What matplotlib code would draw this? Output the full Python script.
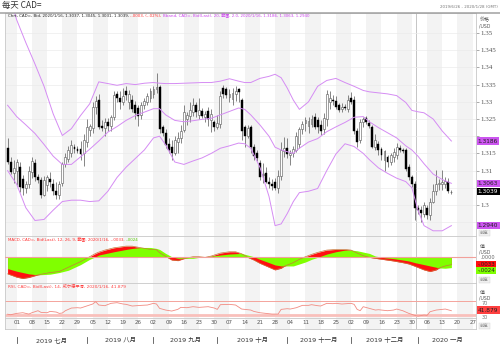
import matplotlib
matplotlib.use('Agg')
import matplotlib.pyplot as plt
import matplotlib.transforms as mtransforms
from matplotlib.lines import Line2D
import numpy as np
import pandas as pd

plt.rcParams['font.family'] = ['DejaVu Sans', 'Noto Sans CJK SC']

# daily bars CAD= (USD/CAD), trading days 2019/6/26 .. 2020/1/16
dates = pd.bdate_range('2019-06-26', '2020-01-16')
opens = [1.3165, 1.3126, 1.3092,
         1.3100, 1.3110, 1.3075, 1.3050, 1.3062, 1.3095, 1.3122, 1.3080, 1.3072, 1.3030, 1.3058, 1.3075, 1.3062,
         1.3042, 1.3028, 1.3064, 1.3118, 1.3135, 1.3150, 1.3170, 1.3164, 1.3162, 1.3150,
         1.3182, 1.3218, 1.3225, 1.3285, 1.3305, 1.3230, 1.3224, 1.3242, 1.3230, 1.3255, 1.3322, 1.3310, 1.3300,
         1.3332, 1.3298, 1.3305, 1.3290, 1.3282, 1.3262, 1.3290, 1.3300, 1.3310,
         1.3322, 1.3336, 1.3342, 1.3226, 1.3210, 1.3178, 1.3170, 1.3152, 1.3182, 1.3196, 1.3218, 1.3250, 1.3258,
         1.3270, 1.3290, 1.3262, 1.3274, 1.3256, 1.3272, 1.3246, 1.3240,
         1.3228, 1.3236, 1.3340, 1.3336, 1.3314, 1.3308, 1.3322, 1.3336, 1.3305, 1.3228, 1.3202, 1.3226, 1.3168,
         1.3150, 1.3121, 1.3086, 1.3092, 1.3068, 1.3062, 1.3068, 1.3050, 1.3085, 1.3156,
         1.3166, 1.3144, 1.3150, 1.3160, 1.3176, 1.3220, 1.3238, 1.3230, 1.3236, 1.3256, 1.3246, 1.3232, 1.3220,
         1.3250, 1.3300, 1.3306, 1.3302, 1.3290, 1.3278, 1.3286, 1.3280,
         1.3312, 1.3306, 1.3214, 1.3190, 1.3240, 1.3252, 1.3238, 1.3228, 1.3170, 1.3178, 1.3162, 1.3132, 1.3140,
         1.3124, 1.3140, 1.3146, 1.3166, 1.3160, 1.3160, 1.3110, 1.3082, 1.3060,
         1.2990, 1.2985, 1.2975, 1.2992, 1.2970, 1.3010, 1.3040, 1.3060, 1.3060, 1.3062, 1.3068, 1.3037]
highs = [1.3195, 1.3140, 1.3131,
         1.3135, 1.3125, 1.3088, 1.3070, 1.3112, 1.3140, 1.3135, 1.3090, 1.3080, 1.3085, 1.3088, 1.3095, 1.3075,
         1.3066, 1.3070, 1.3126, 1.3152, 1.3172, 1.3188, 1.3178, 1.3172, 1.3185, 1.3205,
         1.3250, 1.3236, 1.3300, 1.3318, 1.3322, 1.3246, 1.3252, 1.3252, 1.3262, 1.3330, 1.3332, 1.3330, 1.3340,
         1.3345, 1.3335, 1.3320, 1.3302, 1.3292, 1.3300, 1.3310, 1.3325, 1.3340,
         1.3345, 1.3383, 1.3350, 1.3232, 1.3220, 1.3195, 1.3188, 1.3200, 1.3213, 1.3232, 1.3290, 1.3270, 1.3300,
         1.3310, 1.3300, 1.3310, 1.3282, 1.3272, 1.3285, 1.3280, 1.3248,
         1.3262, 1.3330, 1.3349, 1.3344, 1.3336, 1.3340, 1.3345, 1.3340, 1.3310, 1.3232, 1.3232, 1.3233, 1.3176,
         1.3160, 1.3131, 1.3121, 1.3111, 1.3082, 1.3075, 1.3078, 1.3102, 1.3184, 1.3199,
         1.3196, 1.3160, 1.3172, 1.3213, 1.3228, 1.3245, 1.3257, 1.3257, 1.3262, 1.3266, 1.3256, 1.3246, 1.3266,
         1.3335, 1.3330, 1.3320, 1.3316, 1.3296, 1.3296, 1.3294, 1.3320,
         1.3329, 1.3316, 1.3225, 1.3250, 1.3256, 1.3260, 1.3246, 1.3232, 1.3205, 1.3186, 1.3170, 1.3160, 1.3146,
         1.3150, 1.3165, 1.3180, 1.3175, 1.3165, 1.3166, 1.3120, 1.3086, 1.3070,
         1.3000, 1.2996, 1.3010, 1.3000, 1.3020, 1.3060, 1.3102, 1.3075, 1.3102, 1.3080, 1.3078, 1.3045]
lows = [1.3118, 1.3090, 1.3063,
        1.3058, 1.3038, 1.3030, 1.3036, 1.3050, 1.3078, 1.3070, 1.3064, 1.3020, 1.3025, 1.3042, 1.3052, 1.3030,
        1.3018, 1.3016, 1.3055, 1.3110, 1.3124, 1.3140, 1.3150, 1.3150, 1.3130, 1.3112,
        1.3168, 1.3200, 1.3210, 1.3265, 1.3220, 1.3214, 1.3200, 1.3215, 1.3215, 1.3248, 1.3300, 1.3280, 1.3290,
        1.3305, 1.3280, 1.3270, 1.3250, 1.3230, 1.3250, 1.3280, 1.3290, 1.3300,
        1.3312, 1.3325, 1.3208, 1.3200, 1.3165, 1.3150, 1.3131, 1.3145, 1.3150, 1.3180, 1.3212, 1.3232, 1.3240,
        1.3260, 1.3255, 1.3250, 1.3254, 1.3240, 1.3230, 1.3213, 1.3215,
        1.3220, 1.3225, 1.3312, 1.3310, 1.3300, 1.3290, 1.3302, 1.3300, 1.3190, 1.3170, 1.3196, 1.3150, 1.3132,
        1.3128, 1.3073, 1.3063, 1.3063, 1.3050, 1.3045, 1.3044, 1.3034, 1.3073, 1.3140,
        1.3138, 1.3115, 1.3140, 1.3155, 1.3165, 1.3205, 1.3215, 1.3210, 1.3226, 1.3220, 1.3210, 1.3204, 1.3205,
        1.3230, 1.3280, 1.3290, 1.3280, 1.3270, 1.3270, 1.3275, 1.3270,
        1.3295, 1.3205, 1.3170, 1.3180, 1.3226, 1.3235, 1.3225, 1.3165, 1.3160, 1.3145, 1.3130, 1.3100, 1.3110,
        1.3115, 1.3125, 1.3135, 1.3155, 1.3150, 1.3100, 1.3073, 1.3053, 1.2955,
        1.2975, 1.2951, 1.2966, 1.2960, 1.2955, 1.3005, 1.3030, 1.3045, 1.3045, 1.3050, 1.3036, 1.3031]
closes = [1.3126, 1.3097, 1.3108,
          1.3125, 1.3052, 1.3048, 1.3062, 1.3100, 1.3128, 1.3082, 1.3072, 1.3028, 1.3074, 1.3080, 1.3066, 1.3040,
          1.3030, 1.3060, 1.3120, 1.3140, 1.3160, 1.3175, 1.3162, 1.3157, 1.3148, 1.3190,
          1.3228, 1.3230, 1.3285, 1.3302, 1.3228, 1.3224, 1.3240, 1.3230, 1.3255, 1.3320, 1.3310, 1.3300, 1.3318,
          1.3320, 1.3322, 1.3280, 1.3268, 1.3258, 1.3290, 1.3302, 1.3316, 1.3330,
          1.3336, 1.3342, 1.3222, 1.3210, 1.3174, 1.3160, 1.3150, 1.3188, 1.3196, 1.3215, 1.3270, 1.3262, 1.3276,
          1.3292, 1.3270, 1.3276, 1.3260, 1.3264, 1.3250, 1.3264, 1.3228,
          1.3238, 1.3318, 1.3324, 1.3320, 1.3322, 1.3326, 1.3332, 1.3328, 1.3216, 1.3200, 1.3225, 1.3170, 1.3142,
          1.3138, 1.3082, 1.3089, 1.3068, 1.3060, 1.3056, 1.3050, 1.3085, 1.3160, 1.3166,
          1.3148, 1.3152, 1.3162, 1.3200, 1.3220, 1.3236, 1.3246, 1.3244, 1.3250, 1.3226, 1.3228, 1.3214, 1.3252,
          1.3322, 1.3312, 1.3302, 1.3286, 1.3276, 1.3286, 1.3282, 1.3306,
          1.3300, 1.3214, 1.3184, 1.3240, 1.3250, 1.3240, 1.3230, 1.3170, 1.3190, 1.3160, 1.3144, 1.3156, 1.3124,
          1.3145, 1.3155, 1.3170, 1.3160, 1.3156, 1.3106, 1.3080, 1.3060, 1.2990,
          1.2985, 1.2976, 1.3000, 1.2970, 1.3010, 1.3040, 1.3060, 1.3065, 1.3068, 1.3070, 1.3042, 1.3039]

# Bollinger band (20, 2.0); day = trading-day number, 0 = 2019/6/26
bb_day = [0, 3, 6, 9, 12, 15, 18, 21, 24, 27, 30, 33, 36, 39, 42, 45, 48, 50, 52, 55, 58, 61, 64, 67, 70,
          73, 76, 78, 80, 83, 86, 88, 90, 92, 94, 96, 99, 102, 105, 108, 111, 114, 117, 119, 122, 125, 128,
          131, 133, 135, 137, 140, 143, 146]
bb_upper = [1.3625, 1.3538, 1.3472, 1.3410, 1.3345, 1.3265, 1.3202, 1.3222, 1.3260, 1.3294, 1.3358, 1.3353,
            1.3348, 1.3353, 1.3350, 1.3354, 1.3356, 1.3354, 1.3353, 1.3353, 1.3354, 1.3355, 1.3356, 1.3356,
            1.3360, 1.3367, 1.3360, 1.3356, 1.3356, 1.3368, 1.3374, 1.3380, 1.3370, 1.3340, 1.3305, 1.3278,
            1.3300, 1.3345, 1.3362, 1.3368, 1.3356, 1.3345, 1.3333, 1.3329, 1.3326, 1.3323, 1.3318, 1.3298,
            1.3275, 1.3271, 1.3268, 1.3250, 1.3215, 1.3186]
bb_mid = [1.3290, 1.3257, 1.3233, 1.3208, 1.3176, 1.3142, 1.3118, 1.3118, 1.3140, 1.3162, 1.3186, 1.3212,
          1.3228, 1.3246, 1.3260, 1.3270, 1.3280, 1.3280, 1.3262, 1.3246, 1.3242, 1.3245, 1.3249, 1.3252,
          1.3262, 1.3272, 1.3282, 1.3278, 1.3262, 1.3233, 1.3200, 1.3168, 1.3160, 1.3155, 1.3150, 1.3165,
          1.3183, 1.3193, 1.3213, 1.3227, 1.3240, 1.3255, 1.3257, 1.3242, 1.3225, 1.3210, 1.3195, 1.3172,
          1.3160, 1.3142, 1.3120, 1.3090, 1.3074, 1.3063]
bb_lower = [1.3100, 1.3060, 1.2992, 1.2955, 1.2958, 1.2985, 1.3010, 1.3014, 1.3014, 1.3010, 1.3012, 1.3040,
            1.3080, 1.3110, 1.3135, 1.3160, 1.3195, 1.3200, 1.3175, 1.3125, 1.3118, 1.3128, 1.3137, 1.3150,
            1.3165, 1.3172, 1.3180, 1.3178, 1.3165, 1.3110, 1.3025, 1.2940, 1.2945, 1.2975, 1.3010, 1.3036,
            1.3040, 1.3048, 1.3100, 1.3148, 1.3178, 1.3170, 1.3150, 1.3132, 1.3108, 1.3092, 1.3078, 1.3068,
            1.3050, 1.2985, 1.2940, 1.2925, 1.2925, 1.2940]

# MACD (12, 26, 9)
macd_day = [0, 3, 5, 7, 10, 14, 17, 20, 24, 27, 29, 30, 32, 35, 39, 41, 44, 47, 49, 50, 52, 54, 56, 58, 61,
            63, 65, 67, 70, 73, 75, 77, 79, 81, 83, 86, 88, 90, 91, 94, 96, 98, 100, 102, 105, 108, 111, 113,
            115, 117, 119, 121, 124, 127, 130, 132, 134, 137, 139, 141, 142, 144, 146]
macd_line = [-0.0052, -0.0062, -0.0066, -0.0063, -0.0055, -0.0048, -0.0045, -0.0032, -0.0015, 0.0000,
             0.0010, 0.0014, 0.0020, 0.0027, 0.0032, 0.0032, 0.0027, 0.0022, 0.0021, 0.0012, 0.0001, -0.0010,
             -0.0012, -0.0006, 0.0000, 0.0000, -0.0002, 0.0002, 0.0011, 0.0015, 0.0015, 0.0009, -0.0002,
             -0.0010, -0.0020, -0.0032, -0.0040, -0.0035, -0.0029, -0.0018, -0.0008, 0.0000, 0.0007, 0.0013,
             0.0020, 0.0022, 0.0022, 0.0020, 0.0011, 0.0003, -0.0002, -0.0005, -0.0009, -0.0013, -0.0018,
             -0.0022, -0.0029, -0.0040, -0.0045, -0.0040, -0.0034, -0.0028, -0.0024]
macd_signal = [-0.0036, -0.0044, -0.0048, -0.0052, -0.0055, -0.0053, -0.0048, -0.0041, -0.0024, -0.0008,
               0.0000, 0.0005, 0.0009, 0.0015, 0.0022, 0.0025, 0.0028, 0.0028, 0.0025, 0.0022, 0.0010, 0.0000,
               -0.0005, -0.0005, -0.0005, -0.0002, 0.0000, 0.0002, 0.0005, 0.0008, 0.0009, 0.0010, 0.0005,
               0.0000, -0.0008, -0.0018, -0.0025, -0.0028, -0.0028, -0.0028, -0.0022, -0.0016, -0.0008,
               -0.0002, 0.0008, 0.0015, 0.0020, 0.0020, 0.0018, 0.0014, 0.0010, 0.0002, -0.0003, -0.0006,
               -0.0010, -0.0013, -0.0018, -0.0024, -0.0028, -0.0032, -0.0034, -0.0035, -0.0033]

# RSI (14, Wilder)
rsi_day = [0, 1, 3, 5, 7, 8, 10, 11, 13, 14, 16, 17, 18, 19, 20, 21, 23, 24, 26, 28, 29, 30, 32, 34, 36, 38,
           39, 41, 44, 46, 48, 49, 50, 52, 54, 56, 57, 59, 61, 63, 66, 68, 69, 70, 73, 75, 77, 79, 80, 81, 83,
           85, 87, 89, 90, 92, 93, 95, 97, 99, 100, 102, 103, 105, 107, 108, 110, 113, 114, 115, 116, 117, 119,
           121, 122, 125, 127, 128, 130, 132, 134, 135, 137, 138, 139, 141, 143, 144, 146]
rsi_vals = [31.5, 29.9, 33.9, 35.9, 31.9, 35.9, 41.9, 36.9, 35.9, 39.9, 37.9, 33.9, 35.0, 41.9, 45.9, 49.9,
            50.9, 49.9, 55.9, 61.9, 68.8, 58.9, 56.9, 63.9, 65.9, 61.9, 60.9, 55.9, 57.9, 58.9, 63.9, 61.9,
            48.9, 43.9, 40.9, 45.9, 51.9, 50.9, 53.9, 51.9, 53.9, 49.9, 45.9, 59.9, 60.9, 58.9, 46.9, 44.9,
            43.9, 39.9, 35.9, 33.9, 31.9, 31.9, 45.9, 47.9, 46.9, 50.9, 57.9, 57.9, 59.9, 56.9, 55.9, 63.9,
            62.9, 63.9, 61.9, 63.9, 60.9, 45.9, 41.9, 53.9, 48.9, 43.9, 44.9, 41.9, 43.9, 46.9, 41.9, 33.9,
            27.9, 25.9, 28.9, 27.9, 38.9, 43.9, 45.9, 46.9, 41.879]

month_names = {7: '七月', 8: '八月', 9: '九月', 10: '十月', 11: '十一月', 12: '十二月', 1: '一月'}

W, H = 500, 352
fig = plt.figure(figsize=(W / 100, H / 100), dpi=100)


def fx(px):
    return px / W


def fy(py):
    return 1 - py / H


LEFT, RIGHT = 5, 476


def box(top, bottom):
    return [fx(LEFT), fy(bottom), (RIGHT - LEFT) / W, (bottom - top) / H]


ax = fig.add_axes(box(12.5, 236))
ax_macd = fig.add_axes(box(236, 282.5))
ax_rsi = fig.add_axes(box(282.5, 318))
ax_day = fig.add_axes(box(318, 329))
ax_mon = fig.add_axes(box(329, 352))

XL = (-0.85, 154.1)
x = np.arange(len(dates))
ext = pd.bdate_range('2019-06-24', '2020-02-07')
shift = ext.get_loc(dates[0])
mondays = pd.date_range('2019-06-24', '2020-01-27', freq='W-MON')
mon_pos = ext.get_indexer(mondays) - shift
first_2020 = int(np.argmax(dates.year == 2020))

for a in (ax, ax_macd, ax_rsi, ax_day, ax_mon):
    a.set_xlim(*XL)
    a.set_xticks([])
    for s in a.spines.values():
        s.set_color('#c8c8c8')
        s.set_linewidth(0.6)
for a in (ax, ax_macd, ax_rsi, ax_day):
    for k, p in enumerate(mon_pos):
        if k % 2 == 0:
            a.axvspan(p, p + 5, color='#f3f3f3', lw=0, zorder=0)
    a.axvline(first_2020 - 0.5, color='#bcbcbc', lw=0.6, zorder=1)
ax_mon.axis('off')

# ---- price panel
o, h, l, c = map(np.array, (opens, highs, lows, closes))
up = c >= o
ax.vlines(x, l, h, color='#555555', lw=0.5, zorder=2)
ax.bar(x[up], (c - o)[up], bottom=o[up], width=0.62, color='white', edgecolor='#555555', lw=0.4, zorder=3)
ax.bar(x[~up], (o - c)[~up], bottom=c[~up], width=0.62, color='black', edgecolor='black', lw=0.3, zorder=3)
bb_col = '#d58cf3'
for band in (bb_upper, bb_mid, bb_lower):
    ax.plot(bb_day, band, color=bb_col, lw=0.7, zorder=4)

ax.set_ylim(1.30 - 31 / 3440, 1.30 + 192.5 / 3440)
yt = np.arange(1.295, 1.3501, 0.005)
boxed = [bb_upper[-1], bb_mid[-1], closes[-1], bb_lower[-1]]
ax.set_yticks(yt)
# labels hidden behind the value tags are left blank
ax.set_yticklabels(['' if min(abs(v - b) for b in boxed) < 0.0018 else f'{v:.3f}'.rstrip('0').rstrip('.')
                    for v in yt])
ax.yaxis.tick_right()
ax.tick_params(axis='y', length=2, width=0.5, color='#888888', labelsize=5, labelcolor='#555555', pad=1.5)
for t in ax.get_yticklabels():
    t.set_fontfamily('Liberation Serif')
ax.grid(axis='y', color='#ebebeb', lw=0.5, zorder=0.5)


def tag(a, y, text, fc, tc='#222222'):
    tr = mtransforms.blended_transform_factory(a.transAxes, a.transData)
    a.text(1.004, y, text, transform=tr, fontsize=4.2, color=tc, va='center', ha='left',
           bbox=dict(boxstyle='square,pad=0.22', fc=fc, ec='none'), clip_on=False, zorder=6)


tag_col = '#cc55f0'
tag(ax, bb_upper[-1], f'{bb_upper[-1]:.4f}', tag_col)
tag(ax, bb_mid[-1], f'{bb_mid[-1]:.4f}', tag_col)
tag(ax, closes[-1], f'{closes[-1]:.4f}', 'black', 'white')
tag(ax, bb_lower[-1], f'{bb_lower[-1]:.4f}', tag_col)

# ---- MACD panel
ax_macd.fill_between(macd_day, 0, macd_line, color='#ff1010', lw=0, zorder=2)
ax_macd.fill_between(macd_day, 0, macd_signal, color='#80ff00', lw=0, zorder=3)
ax_macd.plot(macd_day, macd_line, color='#c8783c', lw=0.5, zorder=4)
ax_macd.axhline(0, color='#f2a09a', lw=0.8, zorder=5)
ax_macd.set_ylim(-25.8 / 3.3 * 0.001, 20.7 / 3.3 * 0.001)
ax_macd.set_yticks([])

# ---- RSI panel
ax_rsi.axhline(70, color='#f4a49c', lw=0.7, zorder=2)
ax_rsi.axhline(30, color='#f9c0bb', lw=2.0, zorder=2)
ax_rsi.plot(rsi_day, rsi_vals, color='#f28b82', lw=0.6, zorder=3)
ax_rsi.set_ylim(30 - (318 - 314.7) / 0.335, 30 + (314.7 - 282.5) / 0.335)
ax_rsi.set_yticks([])
tr_r = mtransforms.blended_transform_factory(ax_rsi.transAxes, ax_rsi.transData)
ax_rsi.text(1.012, 70, '70', transform=tr_r, fontsize=3.6, color='#777777', va='top', clip_on=False)
ax_rsi.text(1.012, 30, '30', transform=tr_r, fontsize=3.6, color='#777777', va='top', clip_on=False)
tag(ax_rsi, rsi_vals[-1] + 2, f'{rsi_vals[-1]:.3f}', '#ff4040')

# ---- date row
ax_day.set_ylim(0, 1)
ax_day.set_yticks([])
for m, p in zip(mondays, mon_pos):
    if XL[0] < p < XL[1]:
        ax_day.text(p, 0.55, f'{m.day:02d}', ha='center', va='center', fontsize=4, color='#555555')

ax_mon.set_ylim(0, 1)
starts = [i for i in range(1, len(dates)) if dates[i].month != dates[i - 1].month]
for j, s in enumerate(starts):
    end = starts[j + 1] if j + 1 < len(starts) else XL[1]
    ax_mon.plot([s, s], [0.38, 0.66], color='#555555', lw=0.6)
    ax_mon.text((s + end) / 2, 0.52, f'{dates[s].year} {month_names[dates[s].month]}',
                ha='center', va='center', fontsize=4.6, color='#333333')

# ---- titles and header lines
fig.add_artist(Line2D([0, 1], [fy(12.5), fy(12.5)], color='#a0a0a0', lw=1.1))
fig.text(fx(2), fy(5.5), '每天 CAD=', fontsize=6, color='#333333', va='center',
         family=['Noto Sans CJK SC', 'DejaVu Sans'])
fig.text(fx(498), fy(7), '2019/6/26 - 2020/1/28 (GMT)', ha='right', va='center', fontsize=2.9,
         color='#777777')

renderer = fig.canvas.get_renderer()


def header(x0, y0, parts, width):
    size = 3.0
    tmp = fig.text(0, 0, ''.join(s for s, _ in parts), fontsize=size)
    total = tmp.get_window_extent(renderer).width
    tmp.remove()
    size *= width / total
    xx = x0
    for s, col in parts:
        t = fig.text(fx(xx), fy(y0), s, fontsize=size, color=col, va='center', ha='left')
        xx += t.get_window_extent(renderer).width


chg = closes[-1] - closes[-2]
header(8, 16, [(f'Chrt, CAD=, Bid, 2020/1/16, {opens[-1]:.4f}, {highs[-1]:.4f}, {lows[-1]:.4f}, '
                f'{closes[-1]:.4f}, ', '#222222'),
               (f'{chg:.4f}, ({chg / closes[-2] * 100:.2f}%), '.replace('0.', '.'), '#ff3030'),
               (f'Bband, CAD=, Bid(Last), 20, 範圍, 2.0, 2020/1/16, {bb_upper[-1]:.4f}, '
                f'{bb_mid[-1]:.4f}, {bb_lower[-1]:.4f}', '#cc44ee')], 300)
header(8, 240, [('MACD, CAD=, Bid(Last), 12, 26, 9, 範圍, 2020/1/16, -.0033, ', '#ff3030'),
                ('-.0024', '#55cc00')], 131)
header(8, 286.5, [(f'RSI, CAD=, Bid(Last), 14, 威尔德平滑, 2020/1/16, {rsi_vals[-1]:.3f}', '#ff4040')], 114)

# right-hand captions
for ytop, cap in ((20, '价格'), (246, '值'), (292, '值')):
    fig.text(fx(480), fy(ytop), cap, fontsize=3.6, color='#555555', va='center')
    fig.text(fx(479), fy(ytop + 5.5), '/USD', fontsize=3.3, color='#555555', va='center')
fig.text(fx(480), fy(257.3), '.0000', fontsize=3.6, color='#666666', va='center')
for yy, txt, fc in ((264.3, '-.0033', '#ff1010'), (270.6, '-.0024', '#80ff00')):
    fig.text(fx(477.5), fy(yy), txt, fontsize=4.0, color='#222222', va='center',
             bbox=dict(boxstyle='square,pad=0.2', fc=fc, ec='none'))
for yy in (233, 280, 326):
    fig.text(fx(480), fy(yy), '前高', fontsize=3.2, color='#888888', va='center',
             bbox=dict(boxstyle='square,pad=0.2', fc='#f0f0f0', ec='#d0d0d0', lw=0.3))

fig.savefig('out.png', dpi=100)
